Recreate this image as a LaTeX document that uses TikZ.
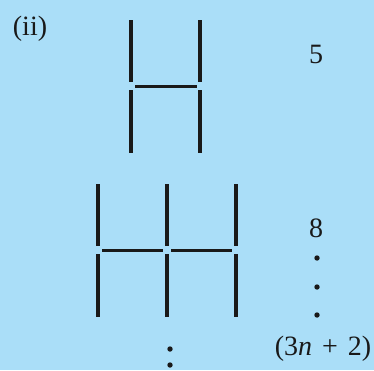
\documentclass[tikz,border=0pt]{standalone}
\usepackage{fontspec}
\setmainfont{Liberation Serif}
\definecolor{bgblue}{RGB}{170,222,248}
\definecolor{ink}{RGB}{25,25,25}
\tikzset{
  stick/.style={draw=ink, line width=3.1pt},
  lbl/.style={inner sep=0pt, font=\fontsize{28}{32}\selectfont, text=ink},
  dotmark/.style={fill=ink, draw=none}
}
\begin{document}
\begin{tikzpicture}[x=1pt,y=-1pt]
\fill[bgblue] (0,0) rectangle (374,370);
\useasboundingbox (0,0) rectangle (374,370);
% labels
\node[lbl] (ii) at (30,28.5) {(ii)};
\node[lbl] (five) at (316,54) {5};
\node[lbl] (eight) at (316,228) {8};
\node[lbl] (gen) at (323,348.5) {(3\textit{n}\hspace{3pt} + \hspace{3pt}2)};
% first figure
\draw[stick] (131,20) -- (131,82);
\draw[stick] (131,90) -- (131,153);
\draw[stick] (200,20) -- (200,82);
\draw[stick] (200,90) -- (200,153);
\draw[stick] (135,86.5) -- (197,86.5);
% second figure
\foreach \x in {98,167,236}{
  \draw[stick] (\x,184) -- (\x,246);
  \draw[stick] (\x,254) -- (\x,317);
}
\draw[stick] (102,250.5) -- (163,250.5);
\draw[stick] (171,250.5) -- (232,250.5);
% dots
\foreach \y in {258,287,315}{
  \fill[dotmark] (317,\y) circle (2.7);
}
\fill[dotmark] (170,349) circle (2.7);
\fill[dotmark] (170,365) circle (2.7);
\end{tikzpicture}
\end{document}
